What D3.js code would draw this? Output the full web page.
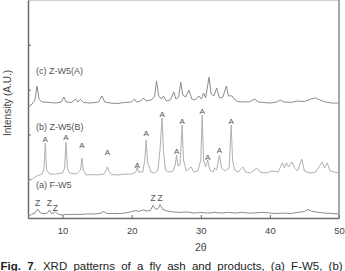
<!DOCTYPE html>
<html>
<head>
<meta charset="utf-8">
<script src="https://cdn.jsdelivr.net/npm/d3@7"></script>
<style>
  body { margin: 0; background: #fff; }
  svg { display: block; font-family: "Liberation Sans", Arial, sans-serif; }
</style>
</head>
<body>
<div id="chart"></div>
<script>
// 2theta tick labels
const xTicks = [10, 20, 30, 40, 50];
const yTicks = [20, 40, 60, 80];

// (c) Z-W5(A) pattern, [2theta, intensity]
const seriesC = [
  [5.1, 52.3], [5.6, 53.6], [6.0, 55.4], [6.3, 61.6], [6.6, 55.8], [7.0, 54.5], [8, 54.3], [9, 54.0],
  [9.8, 54.5], [10.2, 56.7], [10.5, 54.5], [11.3, 54.3], [11.9, 55.8], [12.2, 54.5], [12.6, 55.6],
  [13, 54.3], [14, 54.0], [15.2, 54.5], [15.7, 57.2], [16.1, 54.5], [17, 54.0], [18, 53.8], [19, 54.3],
  [20, 54.5], [20.4, 55.8], [20.7, 54.5], [21.3, 54.9], [21.7, 56.3], [22.1, 54.9], [22.8, 55.4],
  [23.3, 56.7], [23.6, 63.9], [23.9, 57.2], [24.3, 55.8], [24.6, 57.2], [25, 54.9], [25.6, 55.4],
  [26.1, 59.0], [26.4, 55.8], [26.8, 56.7], [27.1, 63.4], [27.4, 57.6], [27.8, 56.7], [28.3, 59.8],
  [28.7, 55.8], [29.2, 55.4], [29.7, 57.2], [30.1, 55.8], [30.4, 58.5], [30.7, 56.3], [31.2, 65.6],
  [31.5, 58.1], [31.9, 57.2], [32.3, 60.7], [32.7, 56.3], [33.2, 56.7], [33.7, 61.6], [34.0, 57.2],
  [34.5, 57.2], [34.8, 55.8], [35.3, 54.7], [36, 54.5], [37, 54.5], [37.8, 55.8], [38.3, 54.5],
  [39, 54.3], [40, 54.0], [41, 54.5], [41.5, 55.4], [42, 54.5], [43, 54.3], [44, 54.9], [45, 54.7],
  [46, 55.8], [46.6, 56.3], [47.2, 55.4], [48, 54.5], [49, 54.0], [50, 54.0]
];

// (b) Z-W5(B) pattern
const seriesB = [
  [5.0, 19.2], [5.6, 20.1], [6.3, 21.5], [7.0, 22.3], [7.3, 24.1], [7.5, 36.2], [7.7, 24.1], [8.1, 22.3],
  [9, 22.3], [10.0, 22.8], [10.3, 25.0], [10.5, 36.6], [10.7, 25.0], [11.0, 22.8], [12.0, 22.3],
  [12.6, 24.1], [12.8, 29.5], [13.0, 24.1], [13.4, 21.9], [14.2, 22.1], [15, 21.9], [16.0, 22.3],
  [16.3, 24.1], [16.5, 25.5], [16.7, 23.7], [17.1, 22.1], [18, 21.9], [19, 22.3], [20, 22.3],
  [20.6, 23.2], [20.8, 25.5], [21.0, 23.2], [21.6, 23.2], [21.9, 28.6], [22.1, 37.5], [22.3, 27.7],
  [22.8, 23.2], [23.3, 22.8], [23.8, 24.1], [24.1, 33.1], [24.4, 47.3], [24.6, 32.2], [24.9, 24.1],
  [25.4, 23.2], [26.0, 23.7], [26.3, 26.4], [26.5, 30.8], [26.7, 25.9], [27.0, 26.4], [27.3, 44.2],
  [27.5, 28.6], [27.9, 23.7], [28.6, 25.5], [29.0, 23.2], [29.6, 23.7], [30.0, 28.6], [30.2, 48.7],
  [30.4, 28.6], [30.7, 25.5], [31.0, 28.6], [31.3, 24.1], [31.8, 23.2], [32.0, 25.0], [32.3, 24.1],
  [32.7, 30.8], [33.0, 25.0], [33.5, 23.7], [34.1, 25.0], [34.4, 44.2], [34.6, 28.6], [34.9, 24.1],
  [35.4, 23.2], [36.1, 25.5], [36.5, 23.2], [37.2, 22.8], [38.1, 25.0], [38.6, 23.2], [39.5, 22.8],
  [40.3, 23.7], [41.2, 23.2], [41.8, 27.3], [42.1, 25.0], [42.4, 27.3], [42.7, 25.5], [43.2, 27.7],
  [43.6, 25.0], [44.0, 23.7], [44.6, 29.0], [45.0, 23.7], [45.8, 22.8], [46.6, 23.2], [47.6, 27.7],
  [47.9, 25.0], [48.3, 27.3], [48.7, 23.7], [49.3, 23.2], [50, 22.8]
];

// (a) F-W5 fly ash pattern
const seriesA = [
  [5.0, 3.4], [5.5, 4.3], [6.0, 4.9], [6.4, 6.7], [6.8, 4.9], [7.3, 4.7], [7.8, 4.9], [8.1, 6.3],
  [8.4, 4.7], [8.7, 4.9], [8.95, 5.6], [9.3, 4.5], [9.9, 4.0], [10.5, 4.3], [11.5, 4.3], [12.5, 4.3],
  [13.5, 4.5], [14.5, 4.5], [15.4, 4.7], [16.0, 5.6], [16.4, 4.7], [17.2, 4.7], [18.2, 4.7], [19, 4.9],
  [19.8, 5.4], [20.6, 6.0], [21.1, 5.6], [21.6, 6.3], [22.2, 5.8], [22.7, 6.0], [23.1, 8.3], [23.5, 6.5],
  [23.9, 7.2], [24.1, 8.7], [24.5, 6.5], [25.2, 5.8], [26, 5.4], [27, 5.2], [28, 5.4], [29, 4.9],
  [30, 5.2], [31, 4.9], [32, 5.2], [33, 4.9], [34, 5.2], [35, 4.9], [36, 5.2], [37, 4.9], [38, 5.0],
  [39, 5.2], [40, 4.9], [41, 4.7], [42, 4.9], [43, 4.7], [44, 5.2], [45, 5.6], [45.5, 6.5], [46, 5.8],
  [47, 5.2], [48, 4.9], [49, 4.7], [50, 4.5]
];

// peak markers: [2theta, label level]
const peaksA = [
  [7.5, 38.0], [10.5, 38.9], [12.8, 35.3], [16.5, 32.2], [20.8, 26.4], [22.1, 40.6], [24.4, 49.1],
  [26.5, 32.6], [27.3, 46.0], [30.2, 50.5], [31.0, 29.9], [32.7, 33.1], [34.4, 46.0]
];
const peaksZ = [[6.4, 9.4], [8.1, 9.4], [8.95, 7.2], [23.1, 11.6], [24.1, 11.6]];

// series names with label level
const seriesNames = [
  { name: "(c) Z-W5(A)", level: 68.5 },
  { name: "(b) Z-W5(B)", level: 43.5 },
  { name: "(a) F-W5", level: 17.6 }
];

const W = 345, H = 271;
const margin = { top: 0, left: 28, right: 6, bottom: 53 };
const width = W - margin.left - margin.right,
  height = H - margin.top - margin.bottom;

const svg = d3.select("#chart").append("svg")
  .attr("width", W).attr("height", H);

const g = svg.append("g")
  .attr("transform", `translate(${margin.left},${margin.top})`);

const x = d3.scaleLinear().domain([5, 50]).range([0, width]);
const y = d3.scaleLinear().domain([2.7, 100]).range([height, 0]);

// frame
g.append("line").attr("x1", 0).attr("x2", width).attr("y1", 0.5).attr("y2", 0.5)
  .attr("stroke", "#d0d0d0");
g.append("line").attr("x1", width).attr("x2", width).attr("y1", 0).attr("y2", height)
  .attr("stroke", "#8a8a8a").attr("stroke-width", 1.5);

// axes with inward ticks
const xAxis = g.append("g").attr("transform", `translate(0,${height})`)
  .call(d3.axisBottom(x).tickValues(xTicks).tickSize(-3).tickPadding(9).tickSizeOuter(0));
const yAxis = g.append("g")
  .call(d3.axisLeft(y).tickValues(yTicks).tickSize(-3).tickFormat("").tickSizeOuter(0));

[xAxis, yAxis].forEach((a) => {
  a.select(".domain").attr("stroke", "#6a6a6a").attr("stroke-width", 1.5);
  a.selectAll(".tick line").attr("stroke", "#6a6a6a");
});
xAxis.selectAll("text").attr("fill", "#444").style("font-size", "9.5px");

const line = d3.line().x((d) => x(d[0])).y((d) => y(d[1]));

const traces = [
  { data: seriesC, color: "#8c8c8c" },
  { data: seriesB, color: "#b0b0b0" },
  { data: seriesA, color: "#8c8c8c" }
];

g.selectAll(".trace")
  .data(traces)
  .join("path")
  .attr("class", "trace")
  .attr("d", (d) => line(d.data))
  .attr("fill", "none")
  .attr("stroke", (d) => d.color)
  .attr("stroke-width", 1);

// peak letters
g.selectAll(".pkA")
  .data(peaksA)
  .join("text")
  .attr("x", (d) => x(d[0]))
  .attr("y", (d) => y(d[1]))
  .attr("dy", "0.35em")
  .attr("text-anchor", "middle")
  .attr("fill", "#555")
  .style("font-size", "8px")
  .text("A");

g.selectAll(".pkZ")
  .data(peaksZ)
  .join("text")
  .attr("x", (d) => x(d[0]))
  .attr("y", (d) => y(d[1]))
  .attr("dy", "0.35em")
  .attr("text-anchor", "middle")
  .attr("fill", "#555")
  .style("font-size", "8.5px")
  .text("Z");

// series names
g.selectAll(".sname")
  .data(seriesNames)
  .join("text")
  .attr("x", 8)
  .attr("y", (d) => y(d.level))
  .attr("dy", "0.35em")
  .attr("fill", "#555")
  .style("font-size", "9px")
  .text((d) => d.name);

// axis titles
svg.append("text")
  .attr("transform", `translate(11,${103}) rotate(-90)`)
  .attr("text-anchor", "middle")
  .attr("fill", "#444")
  .style("font-size", "10px")
  .text("Intensity (A.U.)");

svg.append("text")
  .attr("x", margin.left + x(30))
  .attr("y", 251)
  .attr("text-anchor", "middle")
  .attr("fill", "#444")
  .style("font-size", "10.5px")
  .text("2θ");

// caption
const cap = svg.append("text")
  .attr("x", 0.5)
  .attr("y", 270)
  .attr("fill", "#222")
  .style("font-size", "11.5px")
  .style("word-spacing", "3px");
cap.append("tspan").style("font-weight", "bold").text("Fig. 7");
cap.append("tspan").text(". XRD patterns of a fly ash and products, (a) F-W5, (b)");
</script>
</body>
</html>
